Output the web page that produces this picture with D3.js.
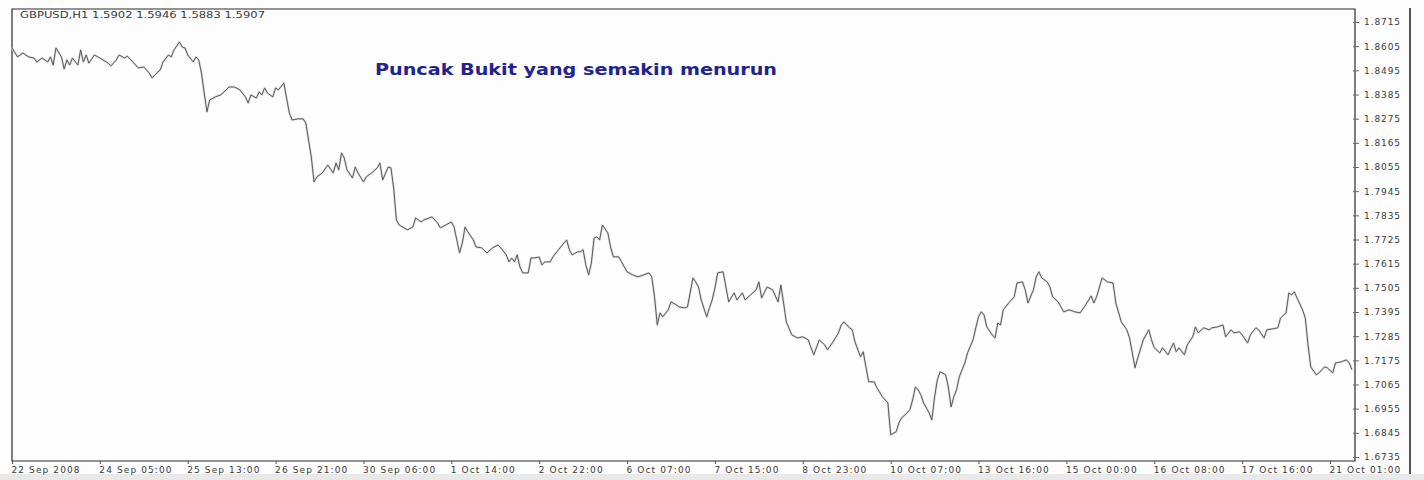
<!DOCTYPE html>
<html><head><meta charset="utf-8">
<script src="https://cdn.jsdelivr.net/npm/d3@7/dist/d3.min.js"></script>
<style>html,body{margin:0;padding:0;background:#fdfdfd;}svg{display:block;}</style>
</head><body>
<svg id="c" width="1424" height="480"></svg>
<script>
const headerText = "GBPUSD,H1  1.5902 1.5946 1.5883 1.5907";
const noteText = "Puncak Bukit yang semakin menurun";
const xTickLabels = ["22 Sep 2008","24 Sep 05:00","25 Sep 13:00","26 Sep 21:00","30 Sep 06:00","1 Oct 14:00","2 Oct 22:00","6 Oct 07:00","7 Oct 15:00","8 Oct 23:00","10 Oct 07:00","13 Oct 16:00","15 Oct 00:00","16 Oct 08:00","17 Oct 16:00","21 Oct 01:00"];
const barsPerLabel = 32;
const yTickValues = [1.8715,1.8605,1.8495,1.8385,1.8275,1.8165,1.8055,1.7945,1.7835,1.7725,1.7615,1.7505,1.7395,1.7285,1.7175,1.7065,1.6955,1.6845,1.6735];
// bar index (hourly bars from the first bar) and close price
const bars = [0,2,4,6,8,9,11,13,14,15,16,18,19,20,21,22,24,25,26,27,28,30,32,35,36,38,39,41,42,44,46,48,50,51,52,54,55,57,58,59,61,62,63,64,66,67,68,69,70,71,72,74,76,78,79,81,83,85,86,87,89,90,91,92,93,95,96,97,99,100,101,102,104,106,107,108,109,110,111,113,115,117,118,119,120,121,122,124,125,126,128,129,131,133,134,135,137,138,139,140,141,144,146,147,149,150,153,155,156,158,160,161,162,163,164,165,166,168,169,171,173,175,177,178,180,181,182,183,184,185,186,188,189,190,192,193,194,196,197,199,201,202,203,204,206,207,208,209,210,211,212,213,214,215,217,218,219,221,222,224,226,228,230,232,233,234,235,236,237,239,240,242,243,245,246,248,249,250,251,253,254,255,256,257,259,260,261,263,264,266,267,269,271,272,273,275,277,279,280,281,282,284,286,288,290,291,292,294,296,297,299,301,302,303,305,306,307,309,310,311,312,314,315,317,319,320,322,323,324,326,327,328,329,330,331,332,334,335,336,337,338,340,341,342,343,344,345,347,348,350,351,352,353,354,355,357,358,359,360,361,363,365,366,368,369,370,372,373,374,375,377,378,379,381,383,385,387,389,391,393,394,395,397,399,401,402,404,406,407,409,410,412,414,415,416,418,419,421,423,424,425,427,428,430,431,432,434,436,437,439,441,442,444,445,447,448,450,451,453,454,456,457,459,461,462,464,465,466,467,468,470,471,472,473,475,476,478,479,481,482,484,486,487,488];
const closes = [1.8597,1.8556,1.8574,1.8556,1.8551,1.8533,1.8551,1.8533,1.8556,1.8519,1.8597,1.8556,1.8501,1.8542,1.8519,1.8551,1.8519,1.8588,1.8533,1.8565,1.8528,1.8565,1.8551,1.8528,1.8515,1.8542,1.8565,1.8551,1.8560,1.8533,1.8506,1.8510,1.8483,1.8460,1.8474,1.8497,1.8533,1.8565,1.8556,1.8588,1.8624,1.8601,1.8597,1.8565,1.8533,1.8556,1.8542,1.8483,1.8392,1.8306,1.8360,1.8374,1.8383,1.8406,1.8419,1.8419,1.8406,1.8374,1.8346,1.8383,1.8369,1.8397,1.8383,1.8415,1.8392,1.8374,1.8415,1.8406,1.8437,1.8369,1.8301,1.8269,1.8274,1.8274,1.8255,1.8178,1.8101,1.7987,1.8010,1.8028,1.8064,1.8028,1.8073,1.8042,1.8119,1.8096,1.8042,1.8005,1.8055,1.8028,1.7987,1.8010,1.8028,1.8051,1.8073,1.7996,1.8055,1.8051,1.7960,1.7814,1.7791,1.7769,1.7782,1.7823,1.7805,1.7814,1.7828,1.7800,1.7778,1.7791,1.7805,1.7782,1.7723,1.7664,1.7709,1.7782,1.7760,1.7723,1.7691,1.7687,1.7664,1.7687,1.7700,1.7687,1.7655,1.7623,1.7641,1.7623,1.7655,1.7600,1.7573,1.7573,1.7641,1.7641,1.7645,1.7609,1.7623,1.7623,1.7646,1.7678,1.7709,1.7723,1.7678,1.7655,1.7669,1.7669,1.7678,1.7609,1.7564,1.7618,1.7732,1.7737,1.7723,1.7791,1.7755,1.7691,1.7646,1.7646,1.7623,1.7578,1.7564,1.7555,1.7564,1.7573,1.7555,1.7464,1.7336,1.7391,1.7373,1.7405,1.7441,1.7427,1.7418,1.7414,1.7418,1.7550,1.7532,1.7509,1.7450,1.7373,1.7414,1.7450,1.7505,1.7573,1.7578,1.7509,1.7441,1.7482,1.7450,1.7482,1.7450,1.7473,1.7496,1.7532,1.7459,1.7509,1.7496,1.7441,1.7518,1.7436,1.7350,1.7291,1.7277,1.7282,1.7268,1.7232,1.7200,1.7268,1.7245,1.7223,1.7259,1.7300,1.7336,1.7350,1.7323,1.7314,1.7259,1.7191,1.7214,1.7145,1.7077,1.7077,1.7050,1.7009,1.6981,1.6836,1.6850,1.6890,1.6913,1.6936,1.6950,1.6995,1.7054,1.7041,1.7018,1.6981,1.6936,1.6904,1.7009,1.7086,1.7123,1.7109,1.7054,1.6963,1.7009,1.7041,1.7100,1.7163,1.7209,1.7268,1.7323,1.7373,1.7396,1.7382,1.7327,1.7291,1.7277,1.7345,1.7336,1.7405,1.7436,1.7464,1.7527,1.7532,1.7496,1.7436,1.7496,1.7555,1.7578,1.7550,1.7532,1.7509,1.7464,1.7441,1.7396,1.7405,1.7396,1.7391,1.7427,1.7468,1.7436,1.7464,1.7550,1.7532,1.7527,1.7436,1.7350,1.7314,1.7277,1.7141,1.7186,1.7268,1.7314,1.7268,1.7232,1.7209,1.7232,1.7200,1.7254,1.7214,1.7232,1.7200,1.7245,1.7282,1.7327,1.7300,1.7323,1.7314,1.7323,1.7327,1.7336,1.7282,1.7314,1.7300,1.7305,1.7291,1.7254,1.7291,1.7323,1.7314,1.7277,1.7314,1.7318,1.7323,1.7368,1.7391,1.7482,1.7473,1.7487,1.7459,1.7405,1.7368,1.7245,1.7145,1.7109,1.7118,1.7145,1.7141,1.7118,1.7163,1.7168,1.7177,1.7163,1.7132];

const svg = d3.select("#c");
const W = 1424, H = 480;
const plotL = 12, plotT = 9, plotR = 1355, plotB = 461;

svg.append("rect").attr("x",0).attr("y",0).attr("width",W).attr("height",H).attr("fill","#fdfdfd");
svg.append("rect").attr("x",0).attr("y",474).attr("width",W).attr("height",6).attr("fill","#e9e9e9");

const x = d3.scaleLinear().domain([0, barsPerLabel*(xTickLabels.length-1)]).range([12, 1330]);
const y = d3.scaleLinear().domain([1.6735, 1.8715]).range([457, 22]);

// frame
const frame = svg.append("g").attr("stroke","#2a2a2a").attr("stroke-width",1.2).attr("fill","none");
frame.append("path").attr("d",`M${plotL},${plotT}H${plotR}V${plotB}H${plotL}Z`);
frame.append("line").attr("x1",1410).attr("x2",1410).attr("y1",8).attr("y2",474).attr("stroke-width",1.6);

// y axis on right
const yAxis = d3.axisRight(y).tickValues(yTickValues).tickFormat(d3.format(".4f")).tickSize(4).tickPadding(5);
const gy = svg.append("g").attr("transform",`translate(${plotR},0)`).call(yAxis);
gy.select(".domain").remove();
gy.selectAll(".tick line").attr("stroke","#666").attr("x1",-2);
gy.selectAll(".tick text").attr("fill","#3a3a3a").attr("font-family","DejaVu Sans, sans-serif").attr("font-size","9px").attr("letter-spacing","0.9px");

// x axis bottom
const xAxis = d3.axisBottom(x).tickValues(d3.range(xTickLabels.length).map(i=>i*barsPerLabel)).tickFormat((d,i)=>xTickLabels[i]).tickSize(3).tickPadding(3);
const gx = svg.append("g").attr("transform",`translate(0,${plotB})`).call(xAxis);
gx.select(".domain").remove();
gx.selectAll(".tick line").attr("stroke","#555");
gx.selectAll(".tick text").attr("fill","#3a3a3a").attr("font-family","DejaVu Sans, sans-serif").attr("font-size","9px").attr("letter-spacing","1.1px").attr("text-anchor","start").attr("x",-1);

// price line
const pts = d3.zip(bars, closes);
const line = d3.line().x(d=>x(d[0])).y(d=>y(d[1]));
svg.append("path").datum(pts).attr("d",line).attr("fill","none").attr("stroke","#dedede").attr("stroke-width",2.4).attr("stroke-linejoin","round");
svg.append("path").datum(pts).attr("d",line).attr("fill","none").attr("stroke","#595959").attr("stroke-width",1).attr("stroke-linejoin","round");

// header
svg.append("text").attr("x",20).attr("y",18).text(headerText)
  .attr("font-family","DejaVu Sans, sans-serif").attr("font-size","8.5px").attr("fill","#3a3a3a")
  .attr("textLength",245).attr("lengthAdjust","spacingAndGlyphs");

// annotation
svg.append("text").attr("x",375).attr("y",75).text(noteText)
  .attr("font-family","DejaVu Sans, sans-serif").attr("font-weight","bold").attr("font-size","15.5px").attr("fill","#23238f")
  .attr("textLength",402).attr("lengthAdjust","spacingAndGlyphs");
</script>
</body></html>
